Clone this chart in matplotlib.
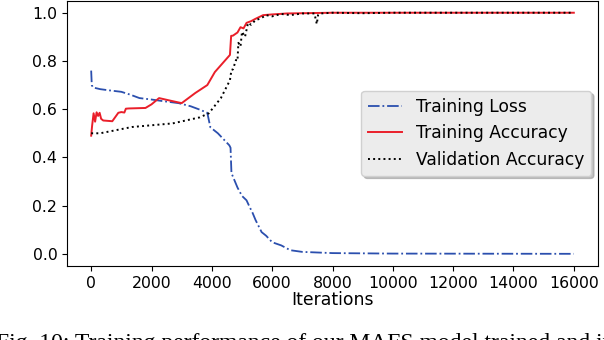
import matplotlib
matplotlib.use("Agg")
import matplotlib.pyplot as plt

# values
loss_iter = [0, 20, 60, 300, 600, 1000, 1300, 1600, 2000, 2400, 2900, 3300, 3600, 3850,
             3900, 3950, 4200, 4580, 4620, 4650, 4700, 4850, 5000, 5150, 5250, 5350,
             5450, 5650, 5800, 6000, 6300, 6600, 7000, 8000, 10000, 16000]
loss_val = [0.76, 0.70, 0.69, 0.683, 0.678, 0.672, 0.660, 0.646, 0.640, 0.633, 0.625,
            0.612, 0.598, 0.585, 0.555, 0.525, 0.500, 0.450, 0.440, 0.335, 0.320, 0.275,
            0.240, 0.222, 0.195, 0.170, 0.140, 0.090, 0.075, 0.048, 0.035, 0.015, 0.008,
            0.003, 0.001, 0.0]

acc_iter = [0, 30, 80, 130, 180, 230, 280, 330, 400, 700, 900, 1000, 1100, 1150, 1250,
            1800, 2000, 2250, 2600, 3000, 3450, 3850, 4100, 4600, 4640, 4700, 4850, 4950,
            5050, 5150, 5300, 5450, 5700, 6000, 6500, 7000, 8000, 10000, 16000]
acc_val = [0.49, 0.53, 0.583, 0.548, 0.587, 0.572, 0.585, 0.56, 0.553, 0.55, 0.585, 0.588,
           0.586, 0.602, 0.603, 0.605, 0.620, 0.646, 0.636, 0.625, 0.667, 0.700, 0.754,
           0.825, 0.904, 0.905, 0.918, 0.940, 0.935, 0.958, 0.965, 0.975, 0.990, 0.993,
           0.997, 0.998, 1.0, 1.0, 1.0]

val_iter = [0, 300, 1350, 2700, 3600, 3900, 4300, 4600, 4650, 4700, 4800, 4850, 4880,
            4950, 5000, 5100, 5200, 5300, 5450, 5600, 5800, 6000, 6300, 6600, 7000, 7400,
            7480, 7520, 7600, 8000, 9000, 10000, 16000]
val_val = [0.50, 0.50, 0.526, 0.541, 0.566, 0.583, 0.646, 0.72, 0.763, 0.765, 0.804, 0.80,
           0.875, 0.86, 0.921, 0.90, 0.958, 0.95, 0.97, 0.975, 0.99, 0.985, 0.995, 0.99,
           0.997, 0.997, 0.953, 0.99, 0.997, 1.0, 0.998, 1.0, 1.0]

xticks = [0, 2000, 4000, 6000, 8000, 10000, 12000, 14000, 16000]
yticks = [0.0, 0.2, 0.4, 0.6, 0.8, 1.0]

fig = plt.figure(figsize=(6.04, 3.40), dpi=100)
ax = fig.add_axes([0.111, 0.218, 0.879, 0.78])

ax.plot(loss_iter, loss_val, color="#2b4fae", linestyle="-.", lw=1.3, label="Training Loss")
ax.plot(acc_iter, acc_val, color="#ea1f2a", linestyle="-", lw=1.4, label="Training Accuracy")
ax.plot(val_iter, val_val, color="black", linestyle=":", lw=1.4, label="Validation Accuracy")

ax.set_xlim(-800, 16800)
ax.set_ylim(-0.05, 1.05)
ax.set_xticks(xticks)
ax.set_yticks(yticks)
ax.set_yticklabels(["%.1f" % v for v in yticks])
ax.tick_params(labelsize=11.3)
ax.set_xlabel("Iterations", fontsize=12.4, labelpad=0)

leg = ax.legend(loc="center right", fontsize=12.3, borderaxespad=0.4,
                shadow={"color": "0.6", "alpha": 0.6}, framealpha=1,
                facecolor="#ececec", edgecolor="#d0d0d0")

# caption of the paper, cut off by the crop as in the reference
fig.text(-0.006, -0.026, "Fig. 10: Training performance of our MAFS model trained and it is the",
         family="Liberation Serif", fontsize=17, va="baseline", ha="left")

fig.savefig("out.png", dpi=100)
